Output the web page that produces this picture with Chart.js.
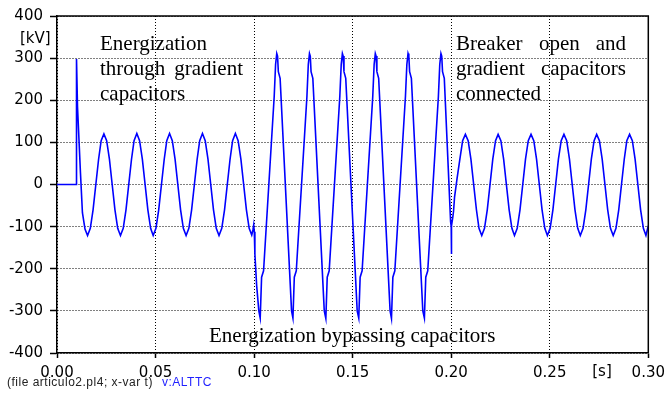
<!DOCTYPE html>
<html><head><meta charset="utf-8">
<script src="https://cdn.jsdelivr.net/npm/chart.js@4"></script>
<style>html,body{margin:0;padding:0;background:#fff;}#wrap{width:671px;height:394px;}</style>
</head><body><div id="wrap"><canvas id="c" width="671" height="394"></canvas></div>
<script>
// time in seconds
const timeS = [
 0, 0.0098, 0.0099, 0.0104, 0.0119, 0.0129, 0.0142, 0.0155,
 0.0169, 0.0183, 0.0197, 0.0211, 0.0224, 0.0238, 0.0252, 0.0266, 0.0280, 0.0294, 0.0308, 0.0322,
 0.0336, 0.0350, 0.0364, 0.0378, 0.0391, 0.0405, 0.0419, 0.0433, 0.0447, 0.0461, 0.0475, 0.0488,
 0.0502, 0.0516, 0.0530, 0.0544, 0.0557, 0.0571, 0.0585, 0.0599, 0.0613, 0.0627, 0.0641, 0.0655,
 0.0669, 0.0683, 0.0697, 0.0711, 0.0724, 0.0738, 0.0752, 0.0766, 0.0780, 0.0794, 0.0808, 0.0822,
 0.0836, 0.0850, 0.0864, 0.0878, 0.0891, 0.0905, 0.0919, 0.0933, 0.0947, 0.0961, 0.0975, 0.0988,
 0.0994, 0.0998, 0.1001, 0.1004, 0.1013, 0.1024,
 0.1031, 0.1038, 0.1048, 0.1102, 0.1109, 0.1115, 0.1119, 0.1123, 0.1132, 0.1190,
 0.1197, 0.1204, 0.1214, 0.1268, 0.1275, 0.1281, 0.1285, 0.1289, 0.1298, 0.1356,
 0.1364, 0.1371, 0.1381, 0.1435, 0.1442, 0.1448, 0.1452, 0.1456, 0.1465, 0.1523,
 0.1531, 0.1538, 0.1548, 0.1602, 0.1609, 0.1615, 0.1619, 0.1623, 0.1632, 0.1690,
 0.1697, 0.1704, 0.1714, 0.1768, 0.1775, 0.1781, 0.1785, 0.1789, 0.1798, 0.1856,
 0.1864, 0.1871, 0.1881, 0.1935, 0.1942, 0.1948, 0.1952, 0.1956, 0.1965,
 0.1997, 0.2000, 0.2001, 0.2002, 0.2008, 0.2012, 0.2017, 0.2030, 0.2044, 0.2058,
 0.2072, 0.2086, 0.2100, 0.2114, 0.2128, 0.2141, 0.2155, 0.2169, 0.2183, 0.2197, 0.2211, 0.2225,
 0.2238, 0.2252, 0.2266, 0.2280, 0.2294, 0.2308, 0.2321, 0.2335, 0.2349, 0.2363, 0.2377, 0.2391,
 0.2405, 0.2419, 0.2433, 0.2447, 0.2461, 0.2475, 0.2488, 0.2502, 0.2516, 0.2530, 0.2544, 0.2558,
 0.2572, 0.2586, 0.2600, 0.2614, 0.2628, 0.2642, 0.2655, 0.2669, 0.2683, 0.2697, 0.2711, 0.2725,
 0.2738, 0.2752, 0.2766, 0.2780, 0.2794, 0.2808, 0.2822, 0.2836, 0.2850, 0.2864, 0.2878, 0.2891,
 0.2905, 0.2919, 0.2933, 0.2947, 0.2961, 0.2975, 0.2988, 0.3000
];
// voltage in kV (v:ALTTC)
const voltageKV = [
 0, 0, 298, 185, 28, -67, -106, -121,
 -104, -60, 0, 60, 104, 120, 104, 60, 0, -60, -104, -121,
 -104, -60, 0, 60, 104, 121, 104, 60, 0, -60, -104, -121,
 -104, -60, 0, 60, 104, 121, 104, 60, 0, -60, -104, -121,
 -104, -60, 0, 60, 104, 121, 104, 60, 0, -60, -104, -121,
 -104, -60, 0, 60, 104, 121, 104, 60, 0, -60, -104, -120,
 -108, -96, -112, -165, -240, -300,
 -317, -220, -205, 209, 285, 311, 305, 268, 252, -300,
 -317, -220, -205, 209, 285, 311, 305, 268, 252, -300,
 -318, -220, -205, 210, 285, 311, 305, 268, 252, -300,
 -317, -220, -205, 209, 285, 311, 305, 268, 252, -300,
 -318, -220, -205, 210, 285, 311, 305, 268, 252, -300,
 -317, -220, -205, 209, 285, 311, 305, 268, 252,
 -88, -100, -165, -98, -78, -63, -30, 15, 60, 104,
 119, 104, 60, 0, -60, -104, -121, -104, -60, 0, 60, 104,
 119, 104, 60, 0, -60, -104, -121, -104, -60, 0, 60, 104,
 119, 104, 60, 0, -60, -104, -121, -104, -60, 0, 60, 104,
 119, 104, 60, 0, -60, -104, -121, -104, -60, 0, 60, 104,
 119, 104, 60, 0, -60, -104, -121, -104, -60, 0, 60, 104,
 119, 104, 60, 0, -60, -104, -121, -98
];
const xTickStep = 0.05;
const yTickStep = 100;
const xUnit = "[s]";
const yUnit = "[kV]";
const noteLeft = ["Energization", "through", "gradient", "capacitors"];
const noteRight = ["Breaker", "open", "and", "gradient", "capacitors", "connected"];
const noteBottom = "Energization bypassing capacitors";
const footerFile = "(file articulo2.pl4; x-var t)";
const footerVar = "v:ALTTC";

const tickFont = {family: "DejaVu Sans", size: 15};
const serif = "21px 'Liberation Serif', 'Times New Roman', serif";

const overlay = {
  id: 'overlay',
  afterDraw(chart) {
    const {ctx, chartArea: a} = chart;
    ctx.save();
    // top and right frame
    ctx.strokeStyle = '#000'; ctx.lineWidth = 1.5; ctx.setLineDash([]);
    ctx.beginPath();
    ctx.moveTo(a.left, a.top); ctx.lineTo(a.right, a.top); ctx.lineTo(a.right, a.bottom);
    ctx.stroke();
    // unit labels
    ctx.fillStyle = '#000';
    ctx.font = "15px 'DejaVu Sans'";
    ctx.textBaseline = 'middle';
    ctx.textAlign = 'left';
    ctx.fillText(yUnit, 20, 39);
    ctx.textAlign = 'center';
    ctx.fillText(xUnit, 602, 372);
    // annotations
    ctx.font = serif;
    ctx.textBaseline = 'alphabetic';
    ctx.textAlign = 'left';
    ctx.fillText(noteLeft[0], 100, 50);
    ctx.fillText(noteLeft[1], 100, 75);
    ctx.textAlign = 'right';
    ctx.fillText(noteLeft[2], 243, 75);
    ctx.textAlign = 'left';
    ctx.fillText(noteLeft[3], 100, 100);
    ctx.fillText(noteRight[0], 456, 50);
    ctx.fillText(noteRight[1], 539, 50);
    ctx.textAlign = 'right';
    ctx.fillText(noteRight[2], 626, 50);
    ctx.textAlign = 'left';
    ctx.fillText(noteRight[3], 456, 75);
    ctx.textAlign = 'right';
    ctx.fillText(noteRight[4], 626, 75);
    ctx.textAlign = 'left';
    ctx.fillText(noteRight[5], 456, 100);
    ctx.fillText(noteBottom, 209, 342);
    // footer
    ctx.font = "12px 'Liberation Sans', Arial, sans-serif";
    ctx.letterSpacing = '0.5px';
    ctx.textBaseline = 'middle';
    ctx.fillStyle = '#222';
    ctx.fillText(footerFile, 7, 383);
    ctx.fillStyle = '#1f1fff';
    ctx.fillText(footerVar, 162, 383);
    ctx.restore();
  }
};

new Chart(document.getElementById('c'), {
  type: 'line',
  data: {
    datasets: [{
      data: timeS.map((t, i) => ({x: t, y: voltageKV[i]})),
      borderColor: '#0000ff',
      borderWidth: 1.6,
      pointRadius: 0,
      fill: false,
      tension: 0
    }]
  },
  options: {
    responsive: false,
    animation: false,
    events: [],
    layout: {padding: {top: 16, right: 22, left: 0, bottom: 0}},
    plugins: {legend: {display: false}, tooltip: {enabled: false}},
    scales: {
      x: {
        type: 'linear', min: 0, max: 0.3,
        ticks: {stepSize: xTickStep, callback: v => Number(v).toFixed(2), font: tickFont, color: '#000', padding: 6, maxRotation: 0, autoSkip: false},
        grid: {color: '#000', lineWidth: 1, tickLength: 5, tickColor: '#000', tickWidth: 1.5},
        border: {display: true, color: '#000', width: 1.5, dash: [1, 2]},
        afterFit(s) { s.height = 41; }
      },
      y: {
        type: 'linear', min: -400, max: 400,
        ticks: {stepSize: yTickStep, callback: v => String(v), font: tickFont, color: '#000', padding: 7},
        grid: {color: '#000', lineWidth: 1, tickLength: 7, tickColor: '#000', tickWidth: 1.5},
        border: {display: true, color: '#000', width: 1.5, dash: [1, 2]},
        afterFit(s) { s.width = 57; }
      }
    }
  },
  plugins: [overlay]
});
</script>
</body></html>
